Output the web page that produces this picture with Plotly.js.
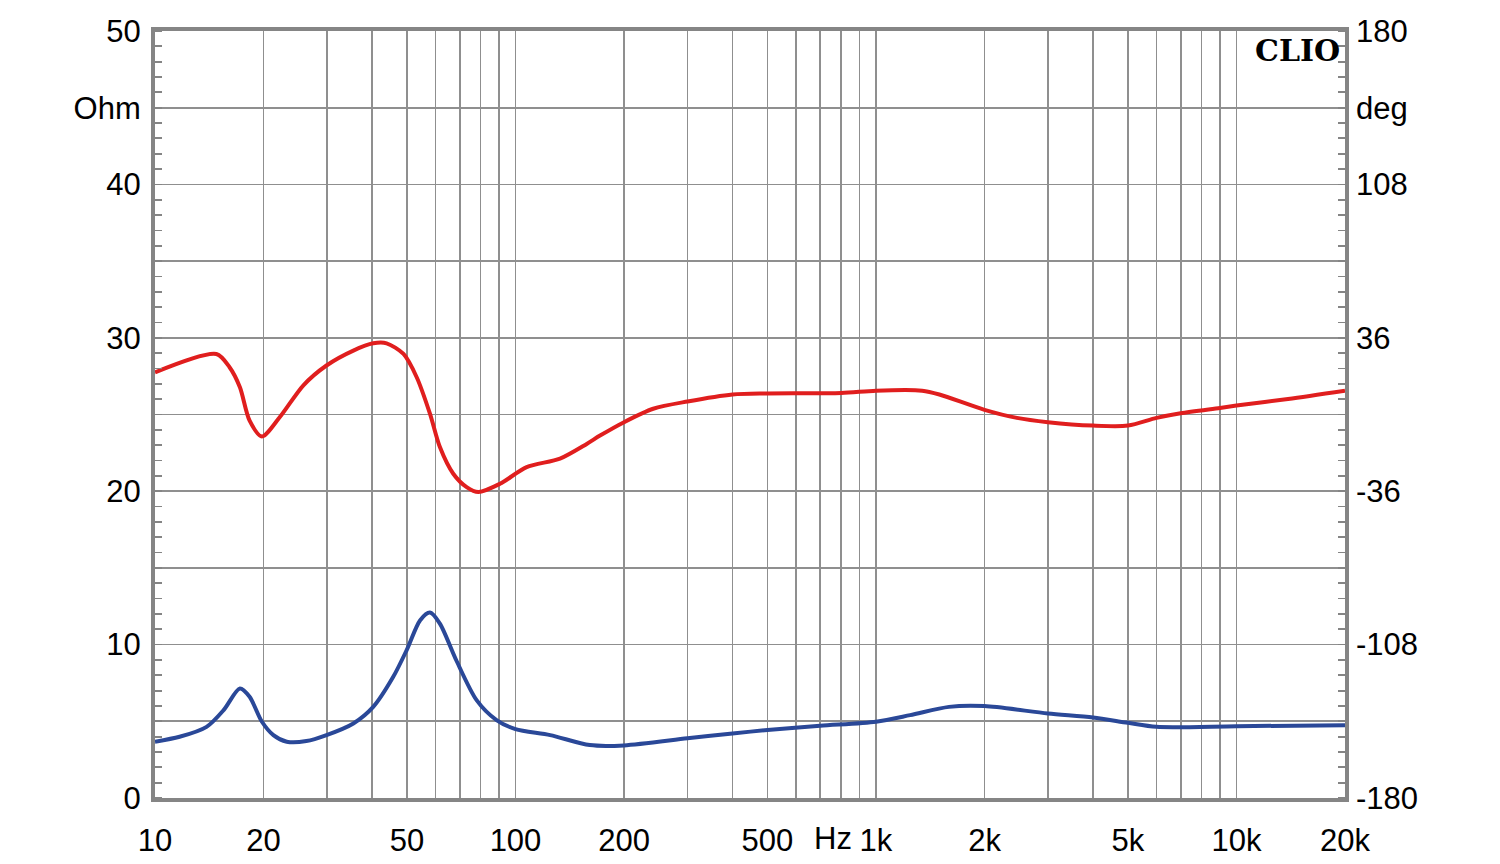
<!DOCTYPE html>
<html>
<head>
<meta charset="utf-8">
<script src="https://cdn.plot.ly/plotly-3.0.1.min.js"></script>
<style>html,body{margin:0;padding:0;background:#fff;}#chart{width:1500px;height:864px;}</style>
</head>
<body>
<div id="chart"></div>
<script>
// Impedance magnitude (Ohm, left axis)
const freqOhm = [10, 11.7, 13.9, 15.5, 17.2, 18.3, 19.8, 21.3, 23.2, 26.3, 29.9, 35.5, 40.3, 45.8, 49.9, 54.4, 57.9, 61.7, 68.5, 78, 88.6, 100, 124.8, 160.7, 200, 300, 400, 500, 700, 1000, 1244, 1594, 2000, 3000, 4000, 5000, 6000, 10000, 20000];
const ohm = [3.67, 3.99, 4.64, 5.73, 7.14, 6.6, 4.97, 4.1, 3.67, 3.71, 4.1, 4.86, 5.94, 7.9, 9.64, 11.59, 12.09, 11.37, 8.98, 6.38, 5.08, 4.49, 4.1, 3.45, 3.43, 3.89, 4.21, 4.43, 4.71, 4.97, 5.4, 5.94, 5.99, 5.51, 5.25, 4.9, 4.64, 4.68, 4.75];
// Impedance phase (deg, right axis)
const freqDeg = [10, 14.8, 16.1, 17.2, 18.3, 19.8, 22.2, 25.8, 29.9, 35.5, 40.3, 43.9, 48.9, 53.2, 57.9, 61.7, 67.2, 73.2, 78.9, 90.6, 107.4, 132.9, 157.6, 171.6, 200, 241, 300, 400, 500, 800, 1000, 1343, 1499, 2000, 2460, 3000, 4000, 5000, 6000, 7000, 9000, 10000, 13900, 20000];
const deg = [19.8, 28.4, 22.2, 12.8, -2.9, -10.3, -1.2, 13.7, 23.0, 30.0, 33.4, 33.4, 28.4, 17.5, 0.4, -15.3, -27.8, -34.1, -36.4, -32.5, -24.7, -20.7, -13.8, -9.9, -3.6, 2.7, 6.1, 9.4, 9.9, 10.1, 11.2, 11.2, 9.4, 2.2, -1.6, -3.6, -5.2, -5.2, -1.6, 0.6, 3.1, 4.2, 7.3, 11.2];

const xTickVals = [10, 20, 50, 100, 200, 500, 1000, 2000, 5000, 10000, 20000];
const xTickText = ['10', '20', '50', '100', '200', '500', '1k', '2k', '5k', '10k', '20k'];
const xGridVals = [];
[10, 100, 1000, 10000].forEach(d => { for (let m = 1; m <= 9; m++) { const v = d * m; if (v <= 20000) xGridVals.push(v); } });
xGridVals.push(20000);
const yTickVals = [0, 5, 10, 15, 20, 25, 30, 35, 40, 45, 50];
const yTickText = ['0', '', '10', '', '20', '', '30', '', '40', 'Ohm', '50'];
const y2TickVals = [-180, -108, -36, 36, 108, 144, 180];
const y2TickText = ['-180', '-108', '-36', '36', '108', 'deg', '180'];

const font = {family: 'Liberation Sans, Arial, sans-serif', size: 31, color: '#000'};
const gridCol = '#8f8f8f';
const frameCol = '#858585';

const traces = [
  {x: freqDeg, y: deg, yaxis: 'y2', type: 'scatter', mode: 'lines',
   line: {color: '#e01e1e', width: 4, shape: 'spline', smoothing: 0.8}, hoverinfo: 'skip'},
  {x: freqOhm, y: ohm, type: 'scatter', mode: 'lines',
   line: {color: '#2a4898', width: 4, shape: 'spline', smoothing: 0.8}, hoverinfo: 'skip'}
];

const layout = {
  width: 1500, height: 864,
  margin: {l: 155, r: 155, t: 31, b: 66},
  paper_bgcolor: '#fff', plot_bgcolor: '#fff',
  showlegend: false,
  font: font,
  xaxis: {
    type: 'log', range: [1, Math.log10(20000)],
    tickmode: 'array', tickvals: xTickVals, ticktext: xTickText,
    showgrid: true, gridcolor: gridCol, gridwidth: 1.8,
    minor: {tickmode: 'array', tickvals: xGridVals, showgrid: true, gridcolor: gridCol, gridwidth: 1.8, ticks: ''},
    ticks: '', ticklabelstandoff: 12,
    showline: true, linecolor: frameCol, linewidth: 4, mirror: true,
    zeroline: false, tickfont: font
  },
  yaxis: {
    range: [0, 50], tickmode: 'array', tickvals: yTickVals, ticktext: yTickText,
    showgrid: true, gridcolor: gridCol, gridwidth: 1.8,
    ticks: '', ticklabelstandoff: 4,
    minor: {dtick: 1, tick0: 0, ticks: 'inside', ticklen: 7, tickwidth: 1.8, tickcolor: frameCol, showgrid: false},
    showline: true, linecolor: frameCol, linewidth: 4, mirror: true,
    zeroline: false, tickfont: font
  },
  yaxis2: {
    overlaying: 'y', side: 'right', range: [-180, 180],
    tickmode: 'array', tickvals: y2TickVals, ticktext: y2TickText,
    showgrid: false, ticks: '', ticklabelstandoff: 10,
    minor: {dtick: 7.2, tick0: -180, ticks: 'inside', ticklen: 7, tickwidth: 1.8, tickcolor: frameCol, showgrid: false},
    showline: false, zeroline: false, tickfont: font
  },
  annotations: [
    {text: 'Hz', xref: 'paper', yref: 'paper', x: (833 - 155) / 1190, y: 0, yshift: -40,
     xanchor: 'center', yanchor: 'middle', showarrow: false, font: font},
    {text: '<b>CLIO</b>', xref: 'paper', yref: 'paper', x: 1, y: 1, xshift: -3, yshift: 0,
     xanchor: 'right', yanchor: 'top', showarrow: false,
     font: {family: 'DejaVu Serif, Liberation Serif, serif', size: 30, color: '#000'}}
  ]
};

Plotly.newPlot('chart', traces, layout, {staticPlot: true, displayModeBar: false});
</script>
</body>
</html>
